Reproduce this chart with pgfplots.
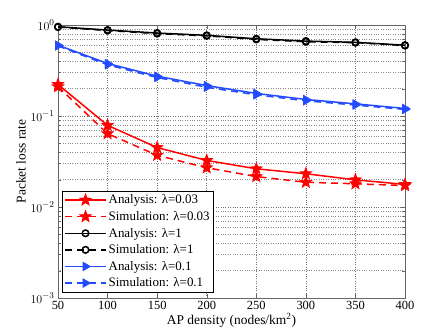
\documentclass[border=0pt]{standalone}
\usepackage{fontspec}
\setmainfont{Liberation Serif}
\usepackage{pgfplots}
\pgfplotsset{compat=1.18}
\definecolor{mred}{RGB}{255,0,0}
\definecolor{mblue}{RGB}{35,75,255}
% filled five-pointed star, like MATLAB's pentagram marker
\pgfdeclareplotmark{pentagram}{%
  \pgfpathmoveto{\pgfqpointpolar{90}{\pgfplotmarksize}}%
  \pgfpathlineto{\pgfqpointpolar{126}{0.42\pgfplotmarksize}}%
  \pgfpathlineto{\pgfqpointpolar{162}{\pgfplotmarksize}}%
  \pgfpathlineto{\pgfqpointpolar{198}{0.42\pgfplotmarksize}}%
  \pgfpathlineto{\pgfqpointpolar{234}{\pgfplotmarksize}}%
  \pgfpathlineto{\pgfqpointpolar{270}{0.42\pgfplotmarksize}}%
  \pgfpathlineto{\pgfqpointpolar{306}{\pgfplotmarksize}}%
  \pgfpathlineto{\pgfqpointpolar{342}{0.42\pgfplotmarksize}}%
  \pgfpathlineto{\pgfqpointpolar{18}{\pgfplotmarksize}}%
  \pgfpathlineto{\pgfqpointpolar{54}{0.42\pgfplotmarksize}}%
  \pgfpathclose
  \pgfusepathqfillstroke
}
\pgfplotsset{
  redm/.style={mark=pentagram, mark size=6pt, mark options={solid, fill=mred, line width=0.8pt}},
  blkm/.style={mark=o, mark size=3.3pt, mark options={solid, fill=none, line width=1.5pt}},
  blum/.style={mark=triangle*, mark size=5pt, mark options={solid, fill=mblue, line width=0.6pt, rotate=-90}},
}
\begin{document}
\begin{tikzpicture}
\useasboundingbox (-58bp,-38bp) rectangle (389bp,298bp);
\begin{axis}[
  at={(0,0)}, anchor=south west,
  scale only axis, width=347bp, height=273bp,
  ymode=log, xmin=50, xmax=400, ymin=1e-3, ymax=1,
  xtick={50,100,...,400},
  ytick={1e-3,1e-2,1e-1,1},
  grid=both,
  major grid style={dotted, draw=black!55, line width=0.5pt},
  minor grid style={dotted, draw=black!45, line width=0.5pt},
  minor x tick num=0,
  tick align=inside, tick pos=both,
  axis line style={draw=black!60, line width=0.6pt},
  tick style={draw=black!60},
  /pgf/number format/assume math mode=true,
  tick label style={font=\fontsize{12.5}{14}\selectfont},
  xlabel={AP density (nodes/km\textsuperscript{2})},
  ylabel={Packet loss rate},
  label style={font=\fontsize{13.5}{15}\selectfont},
  xlabel style={yshift=4pt},
  ylabel style={yshift=-2pt},
  every axis plot/.append style={line width=1.5pt},
  legend style={at={(0.012,0.02)}, anchor=south west, draw=black, fill=white,
    font=\fontsize{13}{15}\selectfont, row sep=2pt, inner sep=2pt},
  legend cell align=left,
  legend image code/.code={%
    \draw[#1, line width=1.5pt] (0cm,0cm) -- (1.44cm,0cm);
    \draw[#1] plot coordinates {(0.72cm,0cm)};},
]
\addplot[color=mred, solid, redm]
 coordinates {(50,0.222)(100,0.079)(150,0.045)(200,0.0325)(250,0.0263)(300,0.0232)(350,0.0199)(400,0.0177)};
\addlegendentry{Analysis: λ=0.03}
\addplot[color=mred, dash pattern=on 7pt off 5pt, redm]
 coordinates {(50,0.21)(100,0.064)(150,0.037)(200,0.027)(250,0.0216)(300,0.0187)(350,0.018)(400,0.0172)};
\addlegendentry{Simulation: λ=0.03}
\addplot[color=black, solid, blkm]
 coordinates {(50,0.957)(100,0.88)(150,0.816)(200,0.77)(250,0.706)(300,0.666)(350,0.645)(400,0.60)};
\addlegendentry{Analysis: λ=1}
\addplot[color=black, dash pattern=on 7pt off 5pt, blkm]
 coordinates {(50,0.95)(100,0.87)(150,0.805)(200,0.76)(250,0.695)(300,0.655)(350,0.64)(400,0.595)};
\addlegendentry{Simulation: λ=1}
\addplot[color=mblue, solid, blum]
 coordinates {(50,0.60)(100,0.378)(150,0.274)(200,0.216)(250,0.177)(300,0.152)(350,0.136)(400,0.121)};
\addlegendentry{Analysis: λ=0.1}
\addplot[color=mblue, dash pattern=on 7pt off 5pt, blum]
 coordinates {(50,0.59)(100,0.365)(150,0.265)(200,0.207)(250,0.171)(300,0.147)(350,0.132)(400,0.118)};
\addlegendentry{Simulation: λ=0.1}
\end{axis}
\end{tikzpicture}
\end{document}
